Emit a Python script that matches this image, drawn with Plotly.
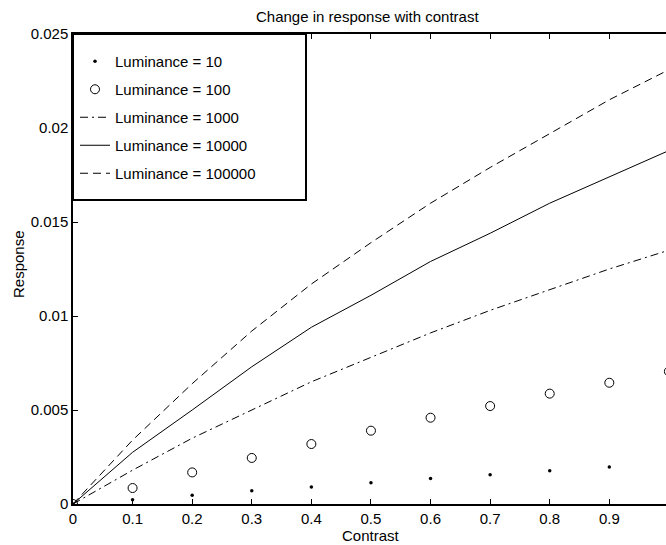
import plotly.graph_objects as go

contrast = [0.0, 0.1, 0.2, 0.3, 0.4, 0.5, 0.6, 0.7, 0.8, 0.9, 1.0]
lum_10 = [0.0, 0.00023, 0.00046, 0.00071, 0.00091, 0.00113, 0.00135, 0.00156, 0.00177, 0.00197, 0.00218]
lum_100 = [0.0, 0.00085, 0.00168, 0.00245, 0.00319, 0.0039, 0.00459, 0.00521, 0.00587, 0.00645, 0.00705]
lum_1000 = [0.0, 0.0018, 0.0035, 0.0050, 0.0065, 0.0078, 0.0091, 0.0103, 0.0114, 0.0125, 0.0135]
lum_10000 = [0.0, 0.00275, 0.0050, 0.0073, 0.0094, 0.0111, 0.0129, 0.0144, 0.0160, 0.0174, 0.0188]
lum_100000 = [0.0, 0.0034, 0.0064, 0.0092, 0.0117, 0.0139, 0.0160, 0.0179, 0.0197, 0.0215, 0.0231]

x_ticks = [0, 0.1, 0.2, 0.3, 0.4, 0.5, 0.6, 0.7, 0.8, 0.9, 1.0]
x_ticktext = ["0", "0.1", "0.2", "0.3", "0.4", "0.5", "0.6", "0.7", "0.8", "0.9", "1"]
y_ticks = [0, 0.005, 0.01, 0.015, 0.02, 0.025]
y_ticktext = ["0", "0.005", "0.01", "0.015", "0.02", "0.025"]

W, H = 666, 545
ML, MR, MT, MB = 73, 0, 34, 41
PW = W - ML - MR
PH = H - MT - MB
px_per_unit = 595.9  # full axis 0..1 extends slightly beyond the canvas

FONT = "Liberation Sans, Arial, Helvetica, sans-serif"

def px_to_paper_x(px):
    return (px - ML) / PW

def px_to_paper_y(py):
    return (H - MB - py) / PH

fig = go.Figure()
fig.add_trace(go.Scatter(x=contrast, y=lum_10, mode="markers", name="Luminance = 10",
                         legendgroup="a",
                         marker=dict(symbol="circle", size=3.5, color="black")))
fig.add_trace(go.Scatter(x=contrast, y=lum_100, mode="markers", name="Luminance = 100",
                         legendgroup="b",
                         marker=dict(symbol="circle-open", size=9, color="black",
                                     line=dict(width=1, color="black"))))
fig.add_trace(go.Scatter(x=contrast, y=lum_1000, mode="lines", name="Luminance = 1000",
                         legendgroup="c",
                         line=dict(color="black", width=1, dash="8px,4px,2px,4px")))
fig.add_trace(go.Scatter(x=contrast, y=lum_10000, mode="lines", name="Luminance = 10000",
                         legendgroup="d",
                         line=dict(color="black", width=1)))
fig.add_trace(go.Scatter(x=contrast, y=lum_100000, mode="lines", name="Luminance = 100000",
                         legendgroup="e",
                         line=dict(color="black", width=1, dash="8px,5px")))

tick_common = dict(ticks="inside", ticklen=5, tickwidth=1, tickcolor="black",
                   showgrid=False, zeroline=False,
                   tickfont=dict(family=FONT, size=15, color="black"))

fig.update_layout(
    xaxis=dict(range=[0, PW / px_per_unit], tickmode="array", tickvals=x_ticks,
               ticktext=x_ticktext, showline=True, linecolor="black", linewidth=1.5,
               mirror="allticks", **tick_common),
    yaxis=dict(range=[0, 0.025], tickmode="array", tickvals=y_ticks,
               ticktext=y_ticktext, showline=True, linecolor="black", linewidth=1.5,
               mirror=False, **tick_common),
    # right-hand ticks only (the right frame line lies just beyond the canvas)
    yaxis2=dict(range=[0, 0.025], tickmode="array", tickvals=y_ticks,
                overlaying="y", side="right", showline=False, showticklabels=False,
                **tick_common),
)

fig.add_shape(type="rect", xref="paper", yref="paper",
              x0=px_to_paper_x(73), x1=px_to_paper_x(306),
              y0=px_to_paper_y(200), y1=px_to_paper_y(34),
              line=dict(color="black", width=2), fillcolor="white", layer="above")

fig.add_annotation(text="Change in response with contrast", xref="paper", yref="paper",
                   x=px_to_paper_x(367), y=px_to_paper_y(17), showarrow=False,
                   xanchor="center", yanchor="middle",
                   font=dict(family=FONT, size=15, color="black"))
fig.add_annotation(text="Contrast", xref="paper", yref="paper",
                   x=px_to_paper_x(371), y=px_to_paper_y(535), showarrow=False,
                   xanchor="center", yanchor="middle",
                   font=dict(family=FONT, size=15, color="black"))
fig.add_annotation(text="Response", xref="paper", yref="paper",
                   x=px_to_paper_x(18), y=px_to_paper_y(264), showarrow=False,
                   xanchor="center", yanchor="middle", textangle=-90,
                   font=dict(family=FONT, size=15, color="black"))

fig.update_layout(
    width=W, height=H,
    margin=dict(l=ML, r=MR, t=MT, b=MB, pad=0),
    paper_bgcolor="white", plot_bgcolor="white",
    showlegend=True,
    legend=dict(x=px_to_paper_x(75), y=px_to_paper_y(45), xanchor="left", yanchor="top",
                bgcolor="rgba(0,0,0,0)", borderwidth=0, tracegroupgap=5.5,
                font=dict(family=FONT, size=15, color="black")),
)

fig.write_html("out.html")
